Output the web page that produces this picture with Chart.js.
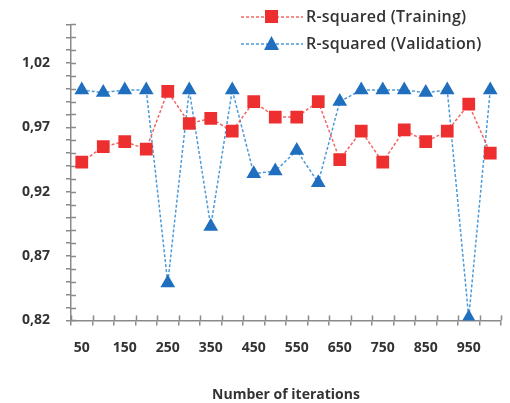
<!DOCTYPE html>
<html>
<head>
<meta charset="utf-8">
<script src="https://cdn.jsdelivr.net/npm/chart.js@4.4.1/dist/chart.umd.min.js"></script>
<style>
  html, body { margin: 0; padding: 0; background: #fff; }
  #wrap { position: relative; width: 510px; height: 403px; }
  #legend { position: absolute; left: 240px; top: 2px; font-family: "Open Sans", sans-serif; font-weight: 600; font-size: 16px; letter-spacing: 0.2px; color: #333; }
  #legend .row { display: flex; align-items: center; height: 27px; }
  #legend svg { margin-right: 2px; }
</style>
</head>
<body>
<div id="wrap">
  <canvas id="chart" width="510" height="403"></canvas>
  <div id="legend"></div>
</div>
<script>
// iterasyon sayısı
const iterations = [50,100,150,200,250,300,350,400,450,500,550,600,650,700,750,800,850,900,950,1000];
const rsqTraining = [0.943,0.955,0.959,0.953,0.998,0.973,0.977,0.967,0.990,0.978,0.978,0.990,0.945,0.967,0.943,0.968,0.959,0.967,0.988,0.950];
const rsqValidation = [0.999,0.997,0.999,0.999,0.849,0.999,0.893,0.999,0.934,0.936,0.952,0.927,0.990,0.999,0.999,0.999,0.997,0.999,0.822,0.999];
const seriesNames = ['R-squared (Training)', 'R-squared (Validation)'];
const yMin = 0.82, yMax = 1.05, yMinor = 0.01, yMajor = 0.05;

const RED = '#ee2f2f', RED_LINE = '#f26565';
const BLUE = '#1f6fbe', BLUE_LINE = '#4d9ad8';
const AXIS = '#8a8a8a';
const TXT = '#333';

// ticks crossing the axis line (Excel style)
const crossTicks = {
  id: 'crossTicks',
  beforeDatasetsDraw(chart) {
    const { ctx, chartArea, scales } = chart;
    ctx.save();
    ctx.strokeStyle = AXIS;
    ctx.lineWidth = 1.5;
    const y = scales.y;
    y.ticks.forEach((t, i) => {
      const py = Math.round(y.getPixelForTick(i)) + 0.5;
      ctx.beginPath(); ctx.moveTo(chartArea.left, py); ctx.lineTo(chartArea.left + 5, py); ctx.stroke();
    });
    const x = scales.x;
    const w = x.width / iterations.length;
    for (let i = 0; i <= iterations.length; i++) {
      const px = Math.round(chartArea.left + i * w) + 0.5;
      ctx.beginPath(); ctx.moveTo(px, chartArea.bottom); ctx.lineTo(px, chartArea.bottom - 5); ctx.stroke();
    }
    ctx.restore();
  }
};

const FONT = { family: '"Open Sans", sans-serif', size: 14, weight: 'bold' };

new Chart(document.getElementById('chart'), {
  type: 'line',
  data: {
    labels: iterations,
    datasets: [
      { label: seriesNames[0], data: rsqTraining, borderColor: RED_LINE, borderWidth: 1.5, borderDash: [3,2],
        pointStyle: 'rect', pointRadius: 9, pointBackgroundColor: RED, pointBorderColor: RED, pointBorderWidth: 0, tension: 0 },
      { label: seriesNames[1], data: rsqValidation, borderColor: BLUE_LINE, borderWidth: 1.5, borderDash: [3,2],
        pointStyle: 'triangle', pointRadius: 8.5, pointBackgroundColor: BLUE, pointBorderColor: BLUE, pointBorderWidth: 0, tension: 0 }
    ]
  },
  options: {
    responsive: false,
    animation: false,
    layout: { padding: { top: 24, right: 0, left: 6, bottom: 0 } },
    plugins: { legend: { display: false }, tooltip: { enabled: false } },
    scales: {
      x: {
        offset: true,
        grid: { offset: true, drawOnChartArea: false, drawTicks: true, tickLength: 5, color: AXIS, lineWidth: 1.5 },
        border: { color: AXIS, width: 1.5 },
        ticks: { autoSkip: false, maxRotation: 0, padding: 14, color: TXT, font: FONT,
          callback: (v, i) => i % 2 === 0 ? String(iterations[i]) : '' },
        title: { display: true, text: 'Number of iterations', color: TXT, font: FONT, padding: { top: 16, bottom: 0 } }
      },
      y: {
        min: yMin, max: yMax,
        grid: { drawOnChartArea: false, drawTicks: true, tickLength: 5, color: AXIS, lineWidth: 1.5 },
        border: { color: AXIS, width: 1.5 },
        ticks: { stepSize: yMinor, autoSkip: false, padding: 16, color: TXT, font: FONT,
          callback: v => {
            const k = Math.round((v - yMin) / yMinor);
            return k % Math.round(yMajor / yMinor) === 0 ? v.toFixed(2).replace('.', ',') : '';
          } }
      }
    }
  },
  plugins: [crossTicks]
});

// legend (HTML overlay, sits inside the plot like in the original)
const legend = document.getElementById('legend');
[[RED, RED_LINE, 'rect'], [BLUE, BLUE_LINE, 'tri']].forEach(([c, lc, shape], i) => {
  const mark = shape === 'rect'
    ? `<rect x="25" y="4" width="13" height="13" fill="${c}"/>`
    : `<polygon points="31.5,3 39,17 24,17" fill="${c}"/>`;
  legend.insertAdjacentHTML('beforeend',
    `<div class="row"><svg width="64" height="20"><line x1="1" y1="11" x2="63" y2="11" stroke="${lc}" stroke-width="1.5" stroke-dasharray="3,2"/>${mark}</svg><span>${seriesNames[i]}</span></div>`);
});
</script>
</body>
</html>
